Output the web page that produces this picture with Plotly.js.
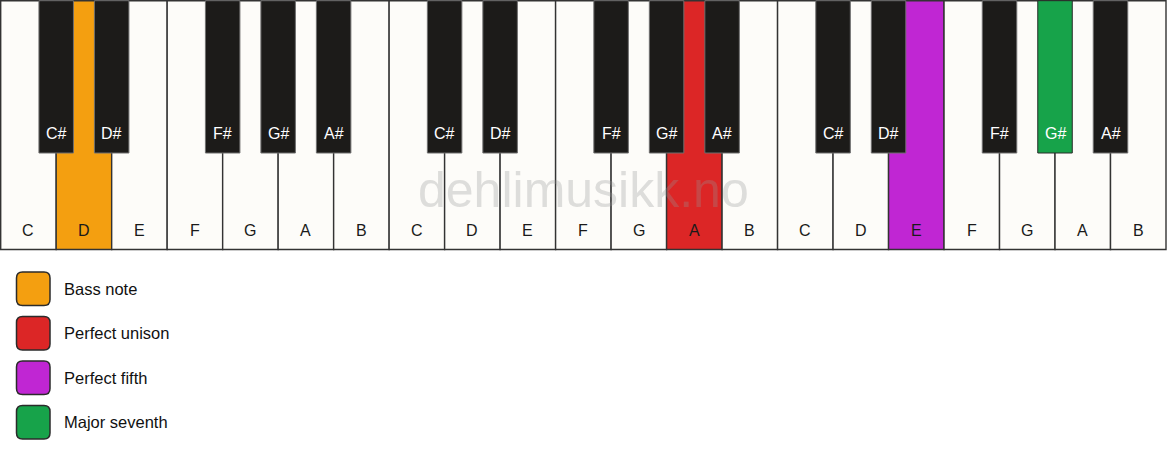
<!DOCTYPE html>
<html>
<head>
<meta charset="utf-8">
<script src="https://cdn.plot.ly/plotly-3.0.1.min.js"></script>
<style>
  html, body { margin: 0; padding: 0; background: #ffffff; }
  #chart { width: 1167px; height: 461px; }
</style>
</head>
<body>
<div id="chart"></div>
<script>
// three octaves, C to B
const whiteKeyLabels = [
  "C", "D", "E", "F", "G", "A", "B",
  "C", "D", "E", "F", "G", "A", "B",
  "C", "D", "E", "F", "G", "A", "B",
];
const blackKeyLabels = [
  "C#", "D#", "F#", "G#", "A#",
  "C#", "D#", "F#", "G#", "A#",
  "C#", "D#", "F#", "G#", "A#",
];
// white-key boundary each black key sits on
const blackKeySlots = [1, 2, 4, 5, 6, 8, 9, 11, 12, 13, 15, 16, 18, 19, 20];

// highlighted notes
const highlightRoles = ["Bass note", "Perfect unison", "Perfect fifth", "Major seventh"];
const highlightColors = ["#f49f10", "#dc2626", "#c026d3", "#17a34a"];
const highlightKeyType = ["white", "white", "white", "black"];
const highlightKeyIndex = [1, 12, 16, 13];

const watermark = "dehlimusikk.no";

(function () {
  const FONT = "Liberation Sans, Arial, Helvetica, sans-serif";
  const W = 1167;
  const H = 461;
  const kbLeft = 0.7;
  const kbRight = 1166;
  const kbTop = 0.7;
  const kbBottom = 249.5;
  const whiteW = (kbRight - kbLeft) / whiteKeyLabels.length;
  const blackW = 34.5;
  const blackBottom = 153;

  function colorFor(type, index) {
    for (let k = 0; k < highlightKeyType.length; k++) {
      if (highlightKeyType[k] === type && highlightKeyIndex[k] === index) {
        return highlightColors[k];
      }
    }
    return null;
  }

  const shapes = [];
  const annotations = [];

  whiteKeyLabels.forEach((label, i) => {
    const x0 = kbLeft + i * whiteW;
    const fill = colorFor("white", i) || "#fdfcf9";
    shapes.push({
      type: "rect", xref: "x", yref: "y",
      x0, x1: x0 + whiteW, y0: kbTop, y1: kbBottom,
      fillcolor: fill, line: { color: "#333333", width: 1.4 }, layer: "above",
    });
    annotations.push({
      x: x0 + whiteW / 2, y: 230, xref: "x", yref: "y",
      text: label, showarrow: false, xanchor: "center", yanchor: "middle",
      font: { family: FONT, size: 16, color: "#1a1a1a" },
    });
  });

  blackKeyLabels.forEach((label, i) => {
    const cx = kbLeft + blackKeySlots[i] * whiteW;
    const hl = colorFor("black", i);
    shapes.push({
      type: "rect", xref: "x", yref: "y",
      x0: cx - blackW / 2, x1: cx + blackW / 2, y0: kbTop, y1: blackBottom,
      fillcolor: hl || "#1c1b19",
      line: { color: hl ? "#2a2a2a" : "#6f6f6f", width: 1 }, layer: "above",
    });
    annotations.push({
      x: cx, y: 133, xref: "x", yref: "y",
      text: label, showarrow: false, xanchor: "center", yanchor: "middle",
      font: { family: FONT, size: 16, color: "#ffffff" },
    });
  });

  annotations.push({
    x: 583, y: 190, xref: "x", yref: "y",
    text: watermark, showarrow: false, xanchor: "center", yanchor: "middle",
    font: { family: FONT, size: 50, color: "rgba(150,150,150,0.3)" },
  });

  // legend: rounded swatches
  const sw = 33.5;
  const r = 6;
  highlightRoles.forEach((role, k) => {
    const x0 = 16.5;
    const y0 = 272 + k * 44.5;
    const x1 = x0 + sw;
    const y1 = y0 + sw;
    const path = `M ${x0 + r} ${y0} L ${x1 - r} ${y0} Q ${x1} ${y0} ${x1} ${y0 + r} ` +
      `L ${x1} ${y1 - r} Q ${x1} ${y1} ${x1 - r} ${y1} L ${x0 + r} ${y1} ` +
      `Q ${x0} ${y1} ${x0} ${y1 - r} L ${x0} ${y0 + r} Q ${x0} ${y0} ${x0 + r} ${y0} Z`;
    shapes.push({
      type: "path", xref: "x", yref: "y", path,
      fillcolor: highlightColors[k], line: { color: "#2b2b2b", width: 1.5 }, layer: "above",
    });
    annotations.push({
      x: 62, y: y0 + sw / 2, xref: "x", yref: "y",
      text: role, showarrow: false, xanchor: "left", yanchor: "middle",
      font: { family: FONT, size: 16.5, color: "#111111" },
    });
  });

  const layout = {
    width: W,
    height: H,
    margin: { l: 0, r: 0, t: 0, b: 0, pad: 0 },
    paper_bgcolor: "#ffffff",
    plot_bgcolor: "#ffffff",
    showlegend: false,
    xaxis: { range: [0, W], visible: false, fixedrange: true },
    yaxis: { range: [H, 0], visible: false, fixedrange: true },
    shapes,
    annotations,
  };

  Plotly.newPlot("chart", [], layout, { displayModeBar: false, staticPlot: true });
})();
</script>
</body>
</html>
